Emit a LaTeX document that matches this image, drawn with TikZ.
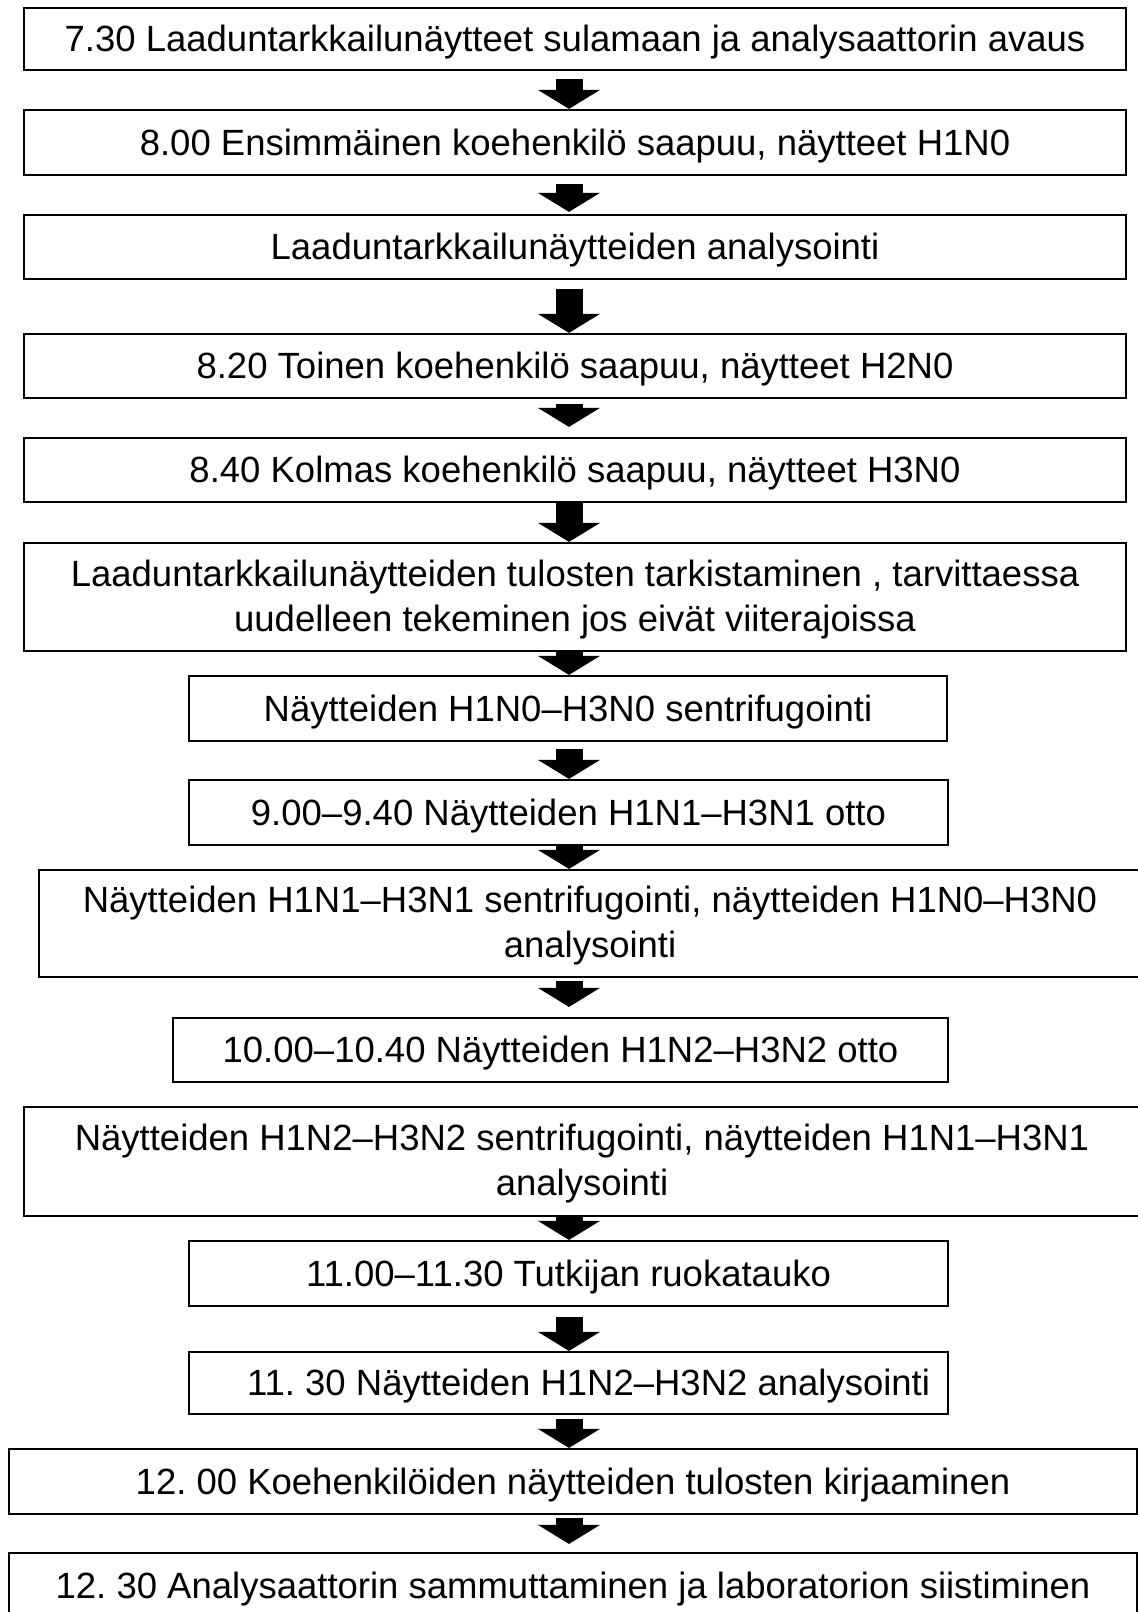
\documentclass[tikz,border=0pt]{standalone}
\usepackage{fontspec}
\setmainfont{Liberation Sans}
\usetikzlibrary{arrows.meta}

\begin{document}
\begin{tikzpicture}[
  x=1pt, y=-1pt,
  font=\fontsize{36.5}{45}\selectfont,
    box/.style={draw, line width=2.2pt, inner sep=0pt, align=center},
    oneline/.style={text height=27pt, text depth=1.5pt},
    flow/.style={line width=27pt, -{Triangle[width=62pt, length=19pt, line width=0pt]}}
]
\useasboundingbox (0,0) rectangle (1138,1612);
\clip (0,0) rectangle (1138,1612);

% Steps
\node[box, oneline, minimum width=1102pt, minimum height=62pt] (s1) at (575,39) {7.30 Laaduntarkkailunäytteet sulamaan ja analysaattorin avaus};
\node[box, oneline, minimum width=1102pt, minimum height=65pt] (s2) at (575,142.5) {8.00 Ensimmäinen koehenkilö saapuu, näytteet H1N0};
\node[box, oneline, minimum width=1102pt, minimum height=64pt] (s3) at (575,247) {Laaduntarkkailunäytteiden analysointi};
\node[box, oneline, minimum width=1102pt, minimum height=64pt] (s4) at (575,366) {8.20 Toinen koehenkilö saapuu, näytteet H2N0};
\node[box, oneline, minimum width=1102pt, minimum height=64pt] (s5) at (575,470) {8.40 Kolmas koehenkilö saapuu, näytteet H3N0};
\node[box, minimum width=1102pt, minimum height=108pt] (s6) at (575,597) {\rule{0pt}{31pt}Laaduntarkkailunäytteiden tulosten tarkistaminen , tarvittaessa\\uudelleen tekeminen jos eivät viiterajoissa};
\node[box, oneline, minimum width=758pt, minimum height=65pt] (s7) at (568,708.5) {Näytteiden H1N0–H3N0 sentrifugointi};
\node[box, oneline, minimum width=759pt, minimum height=65pt] (s8) at (568.5,812.5) {9.00–9.40 Näytteiden H1N1–H3N1 otto};
\node[box, minimum width=1102pt, minimum height=107pt] (s9) at (590,923.5) {\rule{0pt}{31pt}Näytteiden H1N1–H3N1 sentrifugointi, näytteiden H1N0–H3N0\\analysointi};
\node[box, oneline, minimum width=775pt, minimum height=64pt] (s10) at (560.5,1050) {10.00–10.40 Näytteiden H1N2–H3N2 otto};
\node[box, minimum width=1116pt, minimum height=109pt] (s11) at (582,1161.5) {\rule{0pt}{31pt}Näytteiden H1N2–H3N2 sentrifugointi, näytteiden H1N1–H3N1\\analysointi};
\node[box, oneline, minimum width=759pt, minimum height=65pt] (s12) at (568.5,1273.5) {11.00–11.30 Tutkijan ruokatauko};
\node[box, oneline, minimum width=759pt, minimum height=62pt] (s13) at (568.5,1383) {\hspace{1.1em}11.\ 30 Näytteiden H1N2–H3N2 analysointi};
\node[box, oneline, minimum width=1128pt, minimum height=65pt] (s14) at (573,1481.5) {12.\ 00 Koehenkilöiden näytteiden tulosten kirjaaminen};
\node[box, oneline, minimum width=1128pt, minimum height=66pt] (s15) at (573,1586) {12.\ 30 Analysaattorin sammuttaminen ja laboratorion siistiminen};

% Arrows
\coordinate (ax) at (569,0);
\draw[flow, shorten <=8pt] (s1.south -| ax) -- (s2.north -| ax);
\draw[flow, shorten <=8pt, shorten >=2pt] (s2.south -| ax) -- (s3.north -| ax);
\draw[flow, shorten <=9pt] (s3.south -| ax) -- (s4.north -| ax);
\draw[flow, shorten <=5pt, shorten >=10pt] (s4.south -| ax) -- (s5.north -| ax);
\draw[flow] (s5.south -| ax) -- (s6.north -| ax);
\draw[flow] (s6.south -| ax) -- (s7.north -| ax);
\draw[flow, shorten <=7pt] (s7.south -| ax) -- (s8.north -| ax);
\draw[flow] (s8.south -| ax) -- (s9.north -| ax);
\draw[flow, shorten <=3pt, shorten >=10pt] (s9.south -| ax) -- (s10.north -| ax);
\draw[flow] (s11.south -| ax) -- (s12.north -| ax);
\draw[flow, shorten <=10pt] (s12.south -| ax) -- (s13.north -| ax);
\draw[flow, shorten <=4pt] (s13.south -| ax) -- (s14.north -| ax);
\draw[flow, shorten <=3pt, shorten >=8pt] (s14.south -| ax) -- (s15.north -| ax);

\end{tikzpicture}
\end{document}
